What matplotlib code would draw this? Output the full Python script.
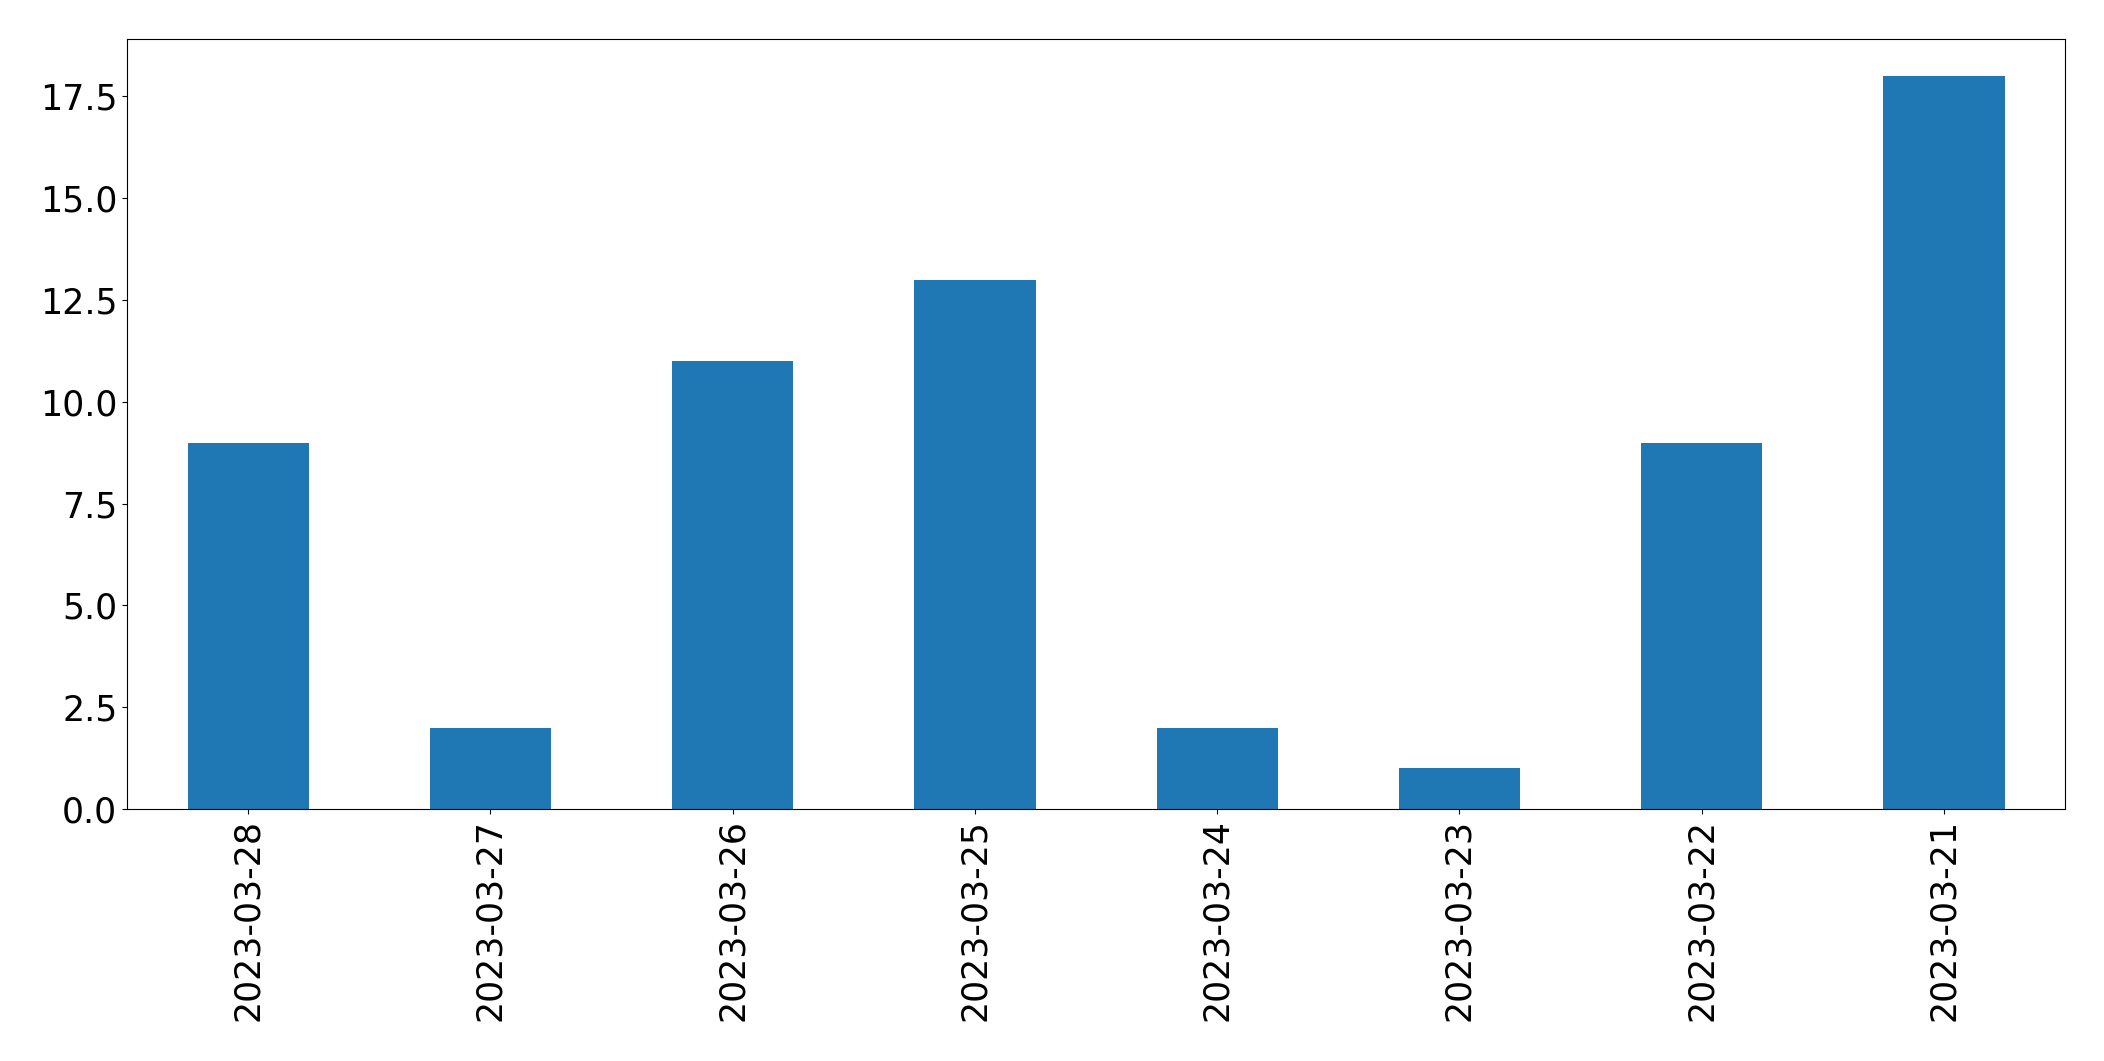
import numpy as np
import pandas as pd
import matplotlib
matplotlib.use("Agg")
import matplotlib.pyplot as plt

dates = ["2023-03-28", "2023-03-27", "2023-03-26", "2023-03-25",
         "2023-03-24", "2023-03-23", "2023-03-22", "2023-03-21"]
counts = [9, 2, 11, 13, 2, 1, 9, 18]

s = pd.Series(counts, index=dates)

fig, ax = plt.subplots(figsize=(21.04, 10.61), dpi=100)
s.plot(kind="bar", ax=ax, color="#1f77b4")
ax.tick_params(axis="both", labelsize=25)
fig.subplots_adjust(left=0.0604, right=0.9815, top=0.9628, bottom=0.2375)
fig.savefig("out.png", dpi=100)
